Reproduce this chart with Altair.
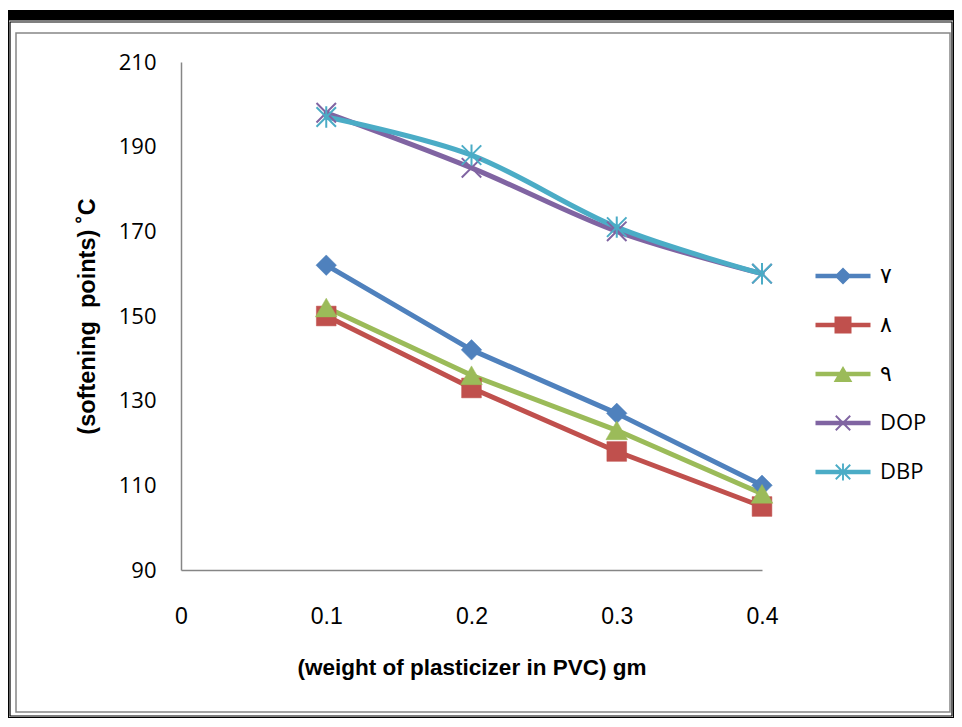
import math
import altair as alt
import pandas as pd

# ---------------- data ----------------
weights = [0.1, 0.2, 0.3, 0.4]
series_names = ["٧", "٨", "٩", "DOP", "DBP"]
s7 = [162, 142, 127, 110]
s8 = [150, 133, 118, 105]
s9 = [152, 136, 123, 108]
s_dop = [198, 185, 170, 160]
s_dbp = [197, 188, 171, 160]
x_ticks = [0, 0.1, 0.2, 0.3, 0.4]
y_ticks = [90, 110, 130, 150, 170, 190, 210]

colors = ["#4F81BD", "#C0504D", "#9BBB59", "#8064A2", "#4BACC6"]

rows = []
for name, vals in zip(series_names, [s7, s8, s9, s_dop, s_dbp]):
    for w, v in zip(weights, vals):
        rows.append({"w": w, "series": name, "value": v})
df = pd.DataFrame(rows)

# ---------------- styling helpers ----------------
AXIS_GRAY = "#868686"
color_scale = alt.Scale(domain=series_names, range=colors)
NB = "\u00a0"

x_enc = alt.X(
    "w:Q",
    scale=alt.Scale(domain=[0, 0.4], nice=False, zero=True),
    axis=alt.Axis(
        values=x_ticks, format=".1~f", title="(weight of plasticizer in PVC) gm",
        grid=False, ticks=False, tickSize=0, domainColor=AXIS_GRAY, domainWidth=1.5,
        labelFont="Liberation Sans", labelFontSize=23, labelColor="black",
        labelPadding=35, labelFlush=False, labelOverlap=False,
        titleFont="Liberation Sans", titleFontSize=22.5, titleFontWeight="bold",
        titleColor="black", titleY=86, titleBaseline="top", zindex=1,
    ),
)
y_enc = alt.Y(
    "value:Q",
    scale=alt.Scale(domain=[90, 210], nice=False, zero=False),
    axis=alt.Axis(
        values=y_ticks, title="(softening" + NB + " points)" + NB + "˚C",
        grid=False, ticks=False, tickSize=0, domainColor=AXIS_GRAY, domainWidth=1.5,
        labelFont="Open Sans", labelFontSize=22, labelColor="black",
        labelPadding=25, labelFlush=False, labelOverlap=False,
        titleFont="Liberation Sans", titleFontSize=23.5, titleFontWeight="bold",
        titleColor="black", titleX=-94, titleY=254, titleBaseline="middle", zindex=1,
    ),
)


def seg(x1, y1, x2, y2, w):
    dx, dy = x2 - x1, y2 - y1
    L = math.hypot(dx, dy)
    nx, ny = -dy / L * w, dx / L * w
    pts = [(x1 + nx, y1 + ny), (x2 + nx, y2 + ny), (x2 - nx, y2 - ny), (x1 - nx, y1 - ny)]
    area = sum(pts[i][0] * pts[(i + 1) % 4][1] - pts[(i + 1) % 4][0] * pts[i][1] for i in range(4))
    if area < 0:
        pts.reverse()
    return "M" + "L".join(f"{x:.3f},{y:.3f}" for x, y in pts) + "Z"


line_part = seg(-3.235, 0, 3.235, 0, 0.26)
legend_paths = [
    line_part + "M0,-1L1,0L0,1L-1,0Z",
    line_part + "M-1,-1L1,-1L1,1L-1,1Z",
    line_part + "M0,-0.95L1.1,0.95L-1.1,0.95Z",
    line_part + seg(-0.85, -0.85, 0.85, 0.85, 0.11) + seg(-0.85, 0.85, 0.85, -0.85, 0.11),
    line_part + seg(-0.85, -0.85, 0.85, 0.85, 0.11) + seg(-0.85, 0.85, 0.85, -0.85, 0.11)
    + seg(0, -1.0, 0, 1.0, 0.11),
]

legend_cfg = alt.Legend(
    title=None, orient="none", legendX=651, legendY=203,
    symbolSize=289, symbolStrokeWidth=0, symbolOpacity=1,
    labelFont="Open Sans", labelFontSize=22, labelColor="black",
    labelOffset=26, rowPadding=27, padding=0, zindex=1,
)

one = pd.DataFrame({"k": [0]})


def frame_rect(x, x2, y, y2, **kw):
    return alt.Chart(one).mark_rect(**kw).encode(
        x=alt.value(x), x2=alt.value(x2), y=alt.value(y), y2=alt.value(y2)
    )


frame = [
    frame_rect(-173, 773, -52, 656, color="black"),
    frame_rect(-172, 772, -41.5, 655, color="white"),
    frame_rect(-171, 771, -40, 654, fill="white", stroke="black", strokeWidth=1.2),
    frame_rect(-165, 769, -29, 650, fill="white", stroke=AXIS_GRAY, strokeWidth=1.5),
]

lines = []
for i, (name, col) in enumerate(zip(series_names, colors)):
    kw = dict(strokeWidth=5, strokeJoin="round", strokeCap="round", color=col)
    if i >= 3:
        kw["interpolate"] = "cardinal"
    lines.append(
        alt.Chart(df).transform_filter(alt.datum.series == name)
        .mark_line(**kw).encode(x=x_enc, y=y_enc)
    )

x_path = "M-1,-1L1,1M-1,1L1,-1"
star_path = "M-1,-1L1,1M-1,1L1,-1M0,-1.1L0,1.1"
marker_specs = [
    ("diamond", True, 420),
    ("square", True, 390),
    ("triangle-up", True, 470),
    (x_path, False, 380),
    (star_path, False, 380),
]
points = []
for name, col, (shape, filled, size) in zip(series_names, colors, marker_specs):
    kw = dict(shape=shape, filled=filled, size=size, opacity=1)
    if filled:
        kw.update(fill=col, stroke=col, strokeWidth=0.5)
    else:
        kw.update(stroke=col, strokeWidth=2)
    points.append(
        alt.Chart(df).transform_filter(alt.datum.series == name)
        .mark_point(**kw).encode(x=x_enc, y=y_enc)
    )

legend_layer = alt.Chart(df).transform_filter("false").mark_point(
    filled=True, opacity=1
).encode(
    color=alt.Color("series:N", scale=color_scale, legend=legend_cfg),
    shape=alt.Shape("series:N", scale=alt.Scale(domain=series_names, range=legend_paths),
                    legend=legend_cfg),
)

chart = alt.layer(
    *frame, *lines, *points, legend_layer
).properties(
    width=581, height=508,
    padding={"left": 173, "top": 54, "right": 192, "bottom": 148},
    autosize=alt.AutoSizeParams(type="none"),
).configure(background="white").configure_view(stroke="transparent")

chart.save("out.html", embed_options={"renderer": "svg", "actions": False})
